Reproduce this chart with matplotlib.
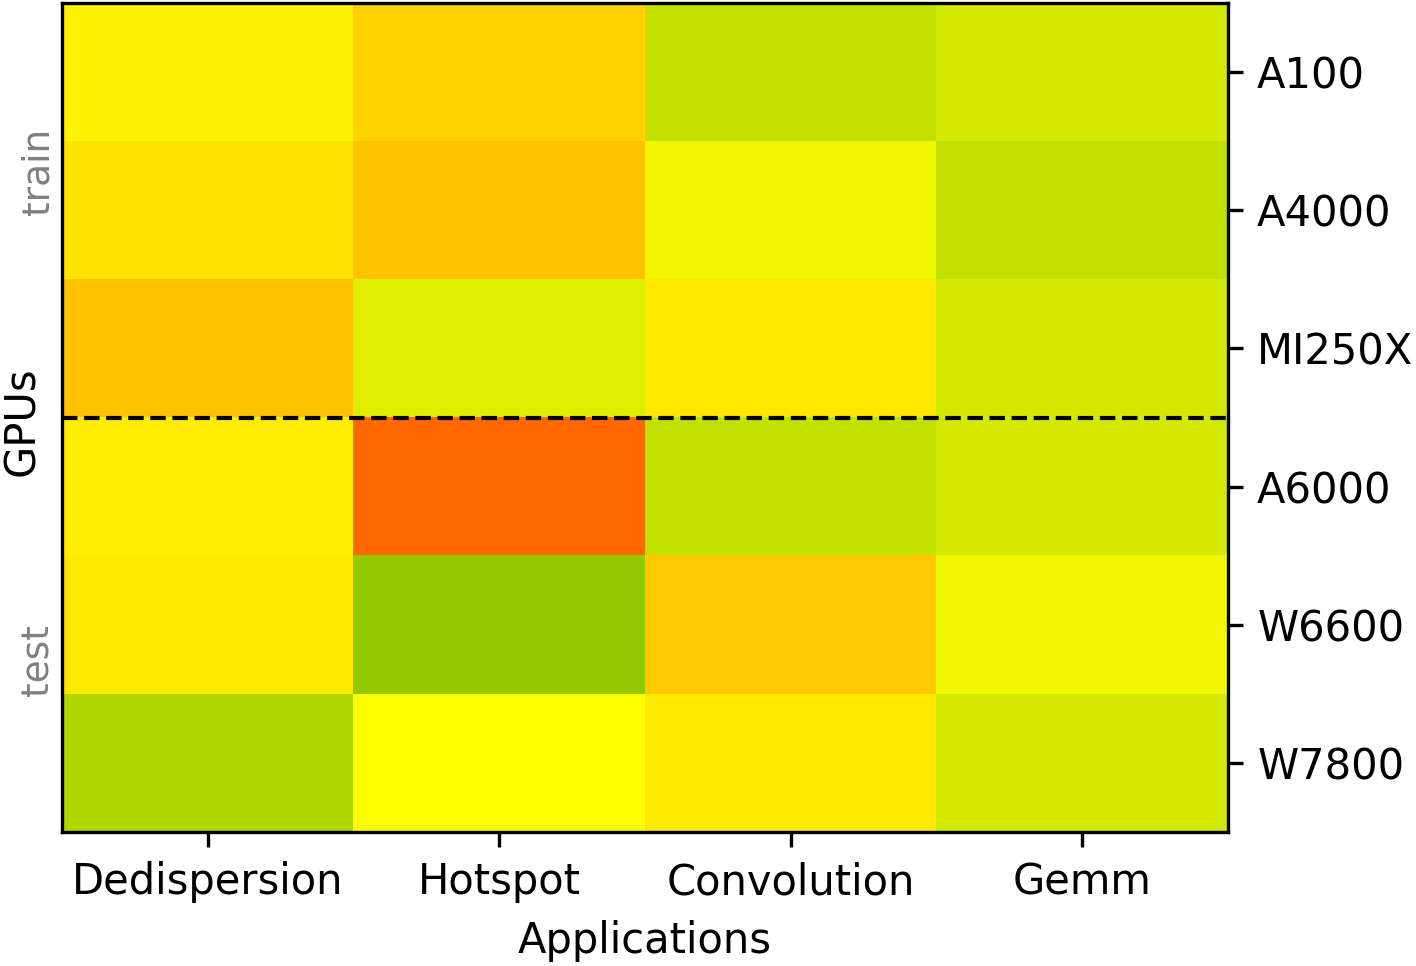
import numpy as np
import matplotlib.pyplot as plt
from matplotlib.colors import LinearSegmentedColormap

# heatmap of apps vs gpus
apps = ["Dedispersion", "Hotspot", "Convolution", "Gemm"]
gpus = ["A100", "A4000", "MI250X", "A6000", "W6600", "W7800"]

a100 = [0.475, 0.412, 0.616, 0.584]
a4000 = [0.447, 0.384, 0.529, 0.620]
mi250x = [0.384, 0.561, 0.455, 0.584]
a6000 = [0.463, 0.208, 0.616, 0.584]
w6600 = [0.455, 0.710, 0.392, 0.529]
w7800 = [0.655, 0.500, 0.455, 0.584]

data = np.array([a100, a4000, mi250x, a6000, w6600, w7800])

cmap = LinearSegmentedColormap.from_list("ryg", ["red", "yellow", "green"])

fig = plt.figure(figsize=(1416/300, 966/300), dpi=300)
ax = fig.add_axes([62/1416, 1-832/966, (1228-62)/1416, (832-3)/966])
ax.imshow(data, cmap=cmap, vmin=0, vmax=1, aspect='auto', interpolation='nearest')
ax.axhline(2.5, color='black', ls='--', lw=1)

ax.set_xticks(range(len(apps)))
ax.set_xticklabels(apps)
ax.yaxis.tick_right()
ax.set_yticks(range(len(gpus)))
ax.set_yticklabels(gpus)
ax.set_xlabel("Applications")

fig.text(22/1416, 1-421/966, "GPUs", rotation=90, fontsize=10, ha='center', va='center')
fig.text(38/1416, 1-171/966, "train", rotation=90, fontsize=9, color='grey', ha='center', va='center')
fig.text(38/1416, 1-660/966, "test", rotation=90, fontsize=9, color='grey', ha='center', va='center')

fig.savefig("out.png", dpi=300)
